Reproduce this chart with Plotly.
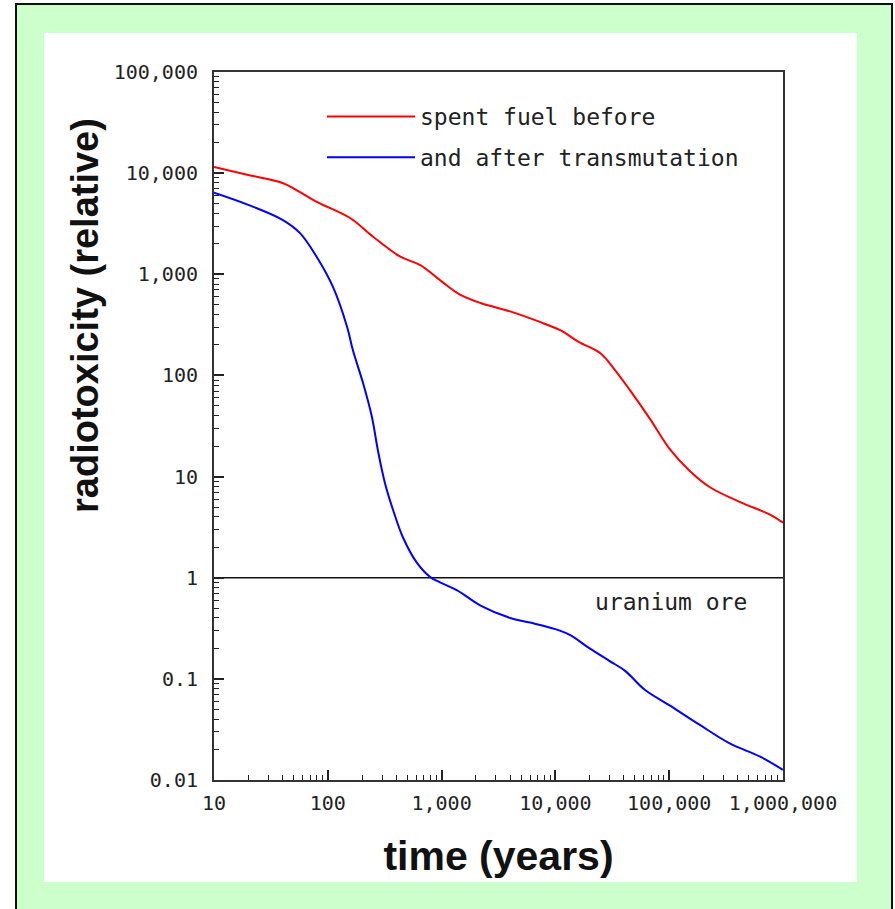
import plotly.graph_objects as go

# Radiotoxicity of spent nuclear fuel relative to uranium ore
years_before = [10, 20, 40, 57, 80, 157, 250, 430, 650, 1000, 1450, 2200, 4000,
                7200, 11000, 16000, 25000, 33000, 45000, 68000, 100000, 150000,
                230000, 420000, 770000, 1000000]
tox_before = [11500, 9600, 8000, 6500, 5200, 3600, 2350, 1500, 1230, 850, 630, 520,
              430, 340, 280, 215, 165, 115, 72, 37, 19, 11.5, 7.8, 5.6, 4.2, 3.5]

years_after = [10, 20, 40, 57, 80, 111, 148, 166, 204, 244, 276, 318, 374, 458, 608,
               790, 970, 1370, 2200, 4000, 6000, 10000, 13500, 20000, 30000, 41000,
               61000, 100000, 186000, 340000, 630000, 1000000]
tox_after = [6400, 4850, 3450, 2550, 1480, 750, 300, 178, 84, 39, 18, 8.6, 4.7, 2.5,
             1.4, 1.02, 0.9, 0.75, 0.53, 0.40, 0.36, 0.31, 0.27, 0.20, 0.15, 0.12,
             0.078, 0.055, 0.035, 0.023, 0.017, 0.0126]

ore_years = [10, 1000000]
ore_level = [1, 1]

W, H = 895, 909
L, R, T, B = 214, 112, 72, 129
PW, PH = W - L - R, H - T - B


def px(xp):
    return (xp - L) / PW


def py(yp):
    return (H - B - yp) / PH


tick_font = dict(family="DejaVu Sans Mono", size=20, color="#222222")
text_font = dict(family="DejaVu Sans Mono", size=23, color="#222222")

fig = go.Figure()
fig.add_trace(go.Scatter(
    x=ore_years, y=ore_level, mode="lines",
    line=dict(color="#111111", width=1.6), showlegend=False, hoverinfo="skip"))
fig.add_trace(go.Scatter(
    x=years_before, y=tox_before, mode="lines", name="spent fuel before",
    legendgroup="a", line=dict(color="#ff0000", width=2, shape="spline", smoothing=1.0)))
fig.add_trace(go.Scatter(
    x=years_after, y=tox_after, mode="lines", name="and after transmutation",
    legendgroup="b", line=dict(color="#0000ff", width=2, shape="spline", smoothing=1.0)))

axis_common = dict(
    type="log", dtick=1, tickformat=",", ticks="inside", ticklen=10, tickwidth=1.5,
    tickcolor="#222222", showline=True, linecolor="#333333", linewidth=2, mirror=True,
    showgrid=False, zeroline=False, tickfont=tick_font,
    minor=dict(ticks="inside", ticklen=5, tickwidth=1, tickcolor="#222222",
               dtick="D1", showgrid=False),
)

fig.update_layout(
    width=W, height=H,
    margin=dict(l=L, r=R, t=T, b=B),
    paper_bgcolor="white", plot_bgcolor="white",
    xaxis=dict(axis_common, range=[1, 6], ticklabelstandoff=4,
               title=dict(text="time (years)", standoff=27,
                          font=dict(family="Liberation Sans", size=41, color="#111111",
                                    weight="bold"))),
    yaxis=dict(axis_common, range=[-2, 5], ticklabelstandoff=10),
    legend=dict(x=px(322), y=py(95), xanchor="left", yanchor="top",
                bgcolor="rgba(0,0,0,0)", font=text_font, itemwidth=88,
                tracegroupgap=8),
    shapes=[
        dict(type="rect", xref="paper", yref="paper", layer="below",
             x0=px(16), x1=px(892), y0=py(915), y1=py(4),
             fillcolor="#ccffcc", line=dict(color="#111111", width=2)),
        dict(type="rect", xref="paper", yref="paper", layer="below",
             x0=px(44), x1=px(857), y0=py(882), y1=py(33),
             fillcolor="white", line=dict(width=0)),
    ],
    annotations=[
        dict(text="radiotoxicity (relative)", xref="paper", yref="paper",
             x=px(85), y=py(316), textangle=-90, showarrow=False,
             xanchor="center", yanchor="middle",
             font=dict(family="Liberation Sans", size=38, color="#111111", weight="bold")),
        dict(text="uranium ore", xref="paper", yref="paper",
             x=px(671), y=py(602), showarrow=False, xanchor="center", yanchor="middle",
             font=text_font),
    ],
)

fig.write_html("out.html")
